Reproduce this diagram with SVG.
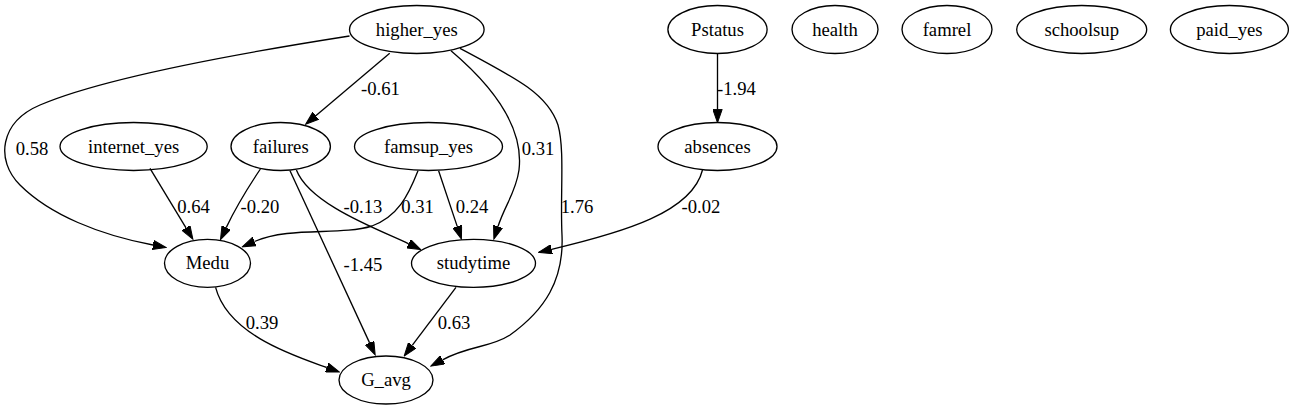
<svg xmlns="http://www.w3.org/2000/svg" width="1294" height="410" viewBox="0 0 1294 410">
<style>
.n ellipse{fill:none;stroke:#000;stroke-width:1.33}
text{fill:#000;text-anchor:middle;font-family:"Liberation Serif","DejaVu Serif","Noto Serif",serif;font-size:18.67px}
.e path{fill:none;stroke:#000;stroke-width:1.33;marker-end:url(#ah)}
</style>
<defs>
<marker id="ah" markerUnits="userSpaceOnUse" viewBox="0 -5 14 10" refX="0" refY="0" markerWidth="14" markerHeight="10" orient="auto">
<path d="M0,-4.67 L13.33,0 L0,4.67 Z" fill="#000" stroke="#000" stroke-width="1"/>
</marker>
</defs>
<rect width="1294" height="410" fill="#fff"/>
<g id="connectors" class="e">
<path d="M389.7,53.3 L315.8,115.7"/>
<path d="M349.5,36 C260,50 110,75 40,105 C0,122 -5,160 20,185 C50,215 100,235 153,245"/>
<path d="M150,168.3 L186,227.9"/>
<path d="M260.4,169 C251,183 236,207 226.2,227.6"/>
<path d="M418,170.7 C408,196 398,216 372,226 C340,236 290,226 254.5,241.5"/>
<path d="M296.4,170 C310,205 380,230 408.7,243.8"/>
<path d="M290,170.7 L369.6,342.9"/>
<path d="M438.6,170.7 L457.2,226.4"/>
<path d="M451,50.7 C495,88 524,128 519,170 C516,192 505,205 498,226.5"/>
<path d="M460,48.3 C520,80 548,95 558,125 C565,150 560,195 562,235 C564,280 545,310 510,335 C490,348 470,345 442.6,359.8"/>
<path d="M456,287.3 L412.2,345.4"/>
<path d="M215.6,287.3 C228,335 295,356 326.8,367.5"/>
<path d="M702.5,170 C692,212 625,232 551.6,249.3"/>
<path d="M717.5,53.5 L717.5,109.4"/>
<text x="380.5" y="95">-0.61</text>
<text x="32" y="155">0.58</text>
<text x="538" y="155">0.31</text>
<text x="736.5" y="95">-1.94</text>
<text x="193.5" y="213">0.64</text>
<text x="260" y="213">-0.20</text>
<text x="363" y="213">-0.13</text>
<text x="417.5" y="213">0.31</text>
<text x="472" y="213">0.24</text>
<text x="577" y="213">1.76</text>
<text x="701" y="213">-0.02</text>
<text x="363" y="271">-1.45</text>
<text x="262" y="329">0.39</text>
<text x="454" y="329">0.63</text>
</g>
<g id="higher_yes" class="n"><ellipse cx="416.8" cy="29.5" rx="67.3" ry="24"/><text x="416.8" y="35.5">higher_yes</text></g>
<g id="Pstatus" class="n"><ellipse cx="717.5" cy="29.5" rx="49.6" ry="24"/><text x="717.5" y="35.5">Pstatus</text></g>
<g id="health" class="n"><ellipse cx="835" cy="29.5" rx="43" ry="24"/><text x="835" y="35.5">health</text></g>
<g id="famrel" class="n"><ellipse cx="947" cy="29.5" rx="45" ry="24"/><text x="947" y="35.5">famrel</text></g>
<g id="schoolsup" class="n"><ellipse cx="1081.7" cy="29.5" rx="65" ry="24"/><text x="1081.7" y="35.5">schoolsup</text></g>
<g id="paid_yes" class="n"><ellipse cx="1229.4" cy="29.5" rx="59" ry="24"/><text x="1229.4" y="35.5">paid_yes</text></g>
<g id="internet_yes" class="n"><ellipse cx="133.6" cy="146.5" rx="73.6" ry="24"/><text x="133.6" y="152.5">internet_yes</text></g>
<g id="failures" class="n"><ellipse cx="280.7" cy="146.5" rx="49.7" ry="24"/><text x="280.7" y="152.5">failures</text></g>
<g id="famsup_yes" class="n"><ellipse cx="428.5" cy="146.5" rx="74" ry="24"/><text x="428.5" y="152.5">famsup_yes</text></g>
<g id="absences" class="n"><ellipse cx="717.5" cy="146.5" rx="59.5" ry="24"/><text x="717.5" y="152.5">absences</text></g>
<g id="Medu" class="n"><ellipse cx="207.5" cy="263.3" rx="43" ry="24"/><text x="207.5" y="269.3">Medu</text></g>
<g id="studytime" class="n"><ellipse cx="473.5" cy="263.3" rx="62" ry="24"/><text x="473.5" y="269.3">studytime</text></g>
<g id="G_avg" class="n"><ellipse cx="386" cy="380" rx="47" ry="24"/><text x="386" y="386">G_avg</text></g>
</svg>
